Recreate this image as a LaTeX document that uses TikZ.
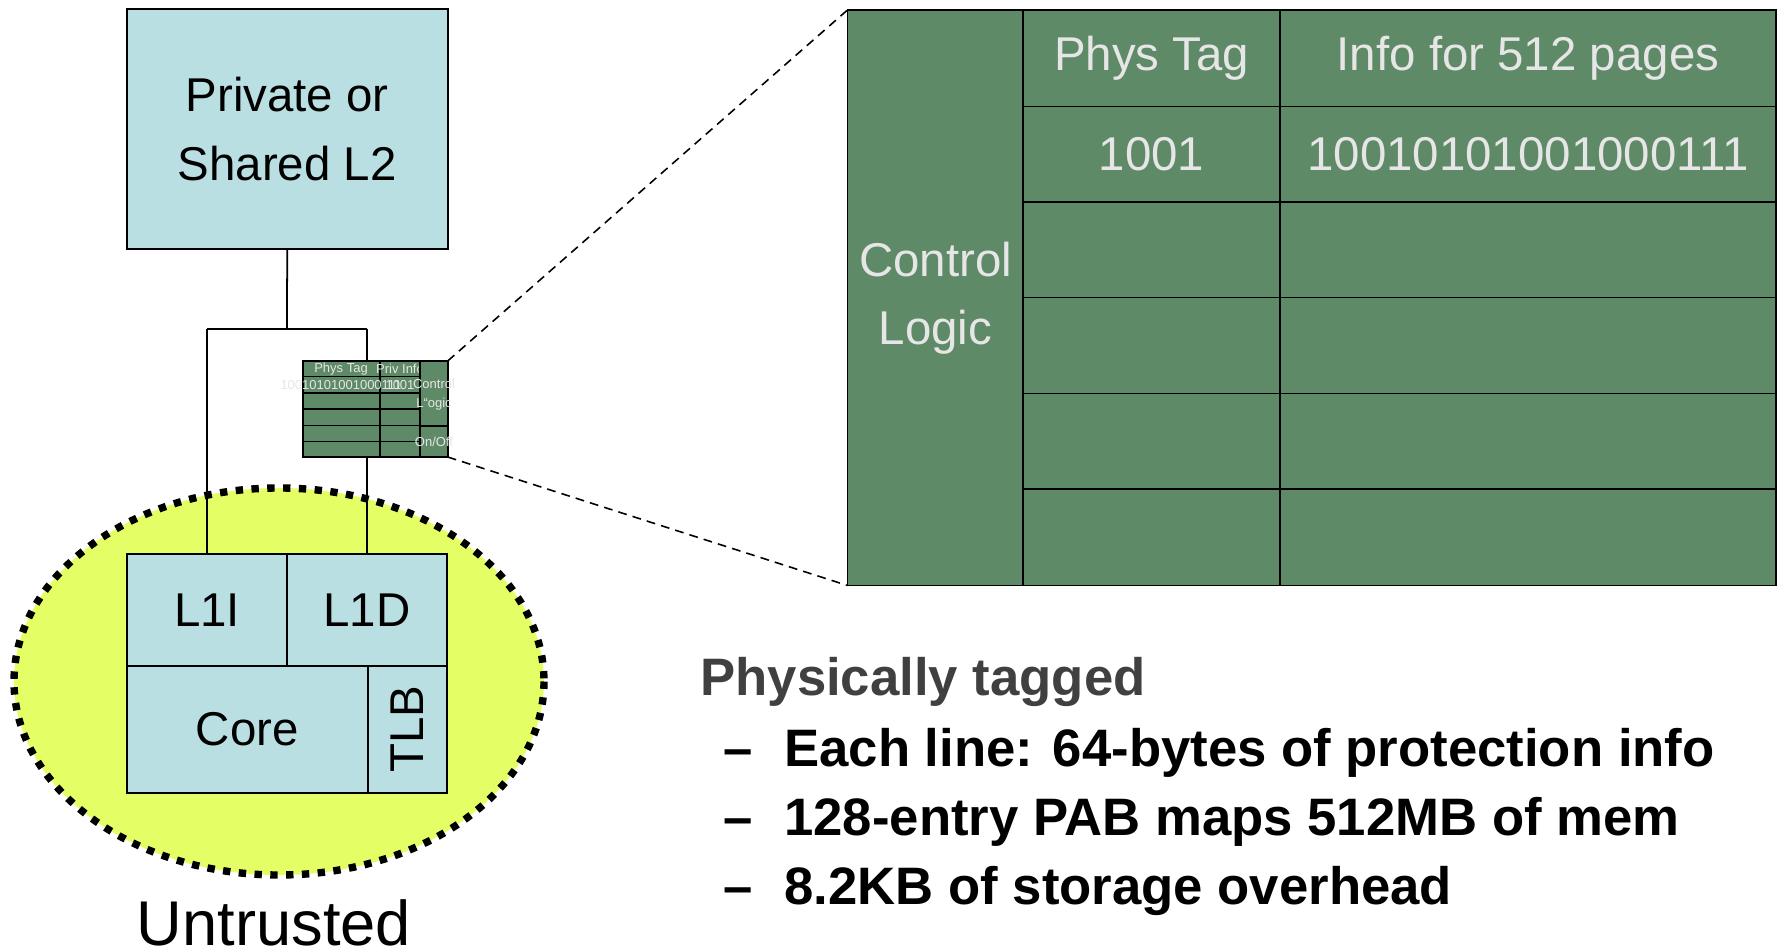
\documentclass[tikz,border=0pt]{standalone}
\usepackage{fontspec}
\setmainfont{Liberation Sans}
\usetikzlibrary{fit}
\definecolor{lblue}{HTML}{B9DFE2}
\definecolor{pgreen}{HTML}{5F8A67}
\definecolor{ltext}{HTML}{E6E6E6}
\definecolor{ylw}{HTML}{E4FF66}
\definecolor{dgray}{HTML}{404040}
\begin{document}
\begin{tikzpicture}[x=0.02cm,y=-0.02cm,
  box/.style={draw=black, line width=1.1pt, fill=lblue, inner sep=0pt, outer sep=0pt},
  gcell/.style={draw=black, line width=1.1pt, fill=pgreen, inner sep=0pt, outer sep=0pt},
  big/.style={font=\fontsize{27}{39}\selectfont, align=center, inner sep=0pt},
  bigl/.style={big, text=ltext},
  tiny/.style={font=\fontsize{7.4}{10.8}\selectfont, align=center, inner sep=0pt, text=ltext},
  conn/.style={draw=black, line width=1pt},
  zoomline/.style={draw=black, line width=0.9pt, dash pattern=on 5pt off 3.5pt},
  grid/.style={draw=black, line width=1.1pt},
  sgrid/.style={draw=black, line width=0.9pt},
  bul/.style={anchor=base west, inner sep=0pt, font=\fontsize{30}{36}\selectfont\bfseries}
]
\useasboundingbox (0,0) rectangle (1779,949);

% untrusted region
\fill[ylw] (279,681.5) ellipse [x radius=265, y radius=193.5];
\draw[line width=4.2pt, dash pattern=on 4.2pt off 4.8pt] (279,681.5) ellipse [x radius=265, y radius=193.5];

% L2 and core boxes
\node[box, fit={(126.7,9) (447.7,249)}] (l2) {};
\node[big] (l2t) at (l2.center) {Private or\\Shared L2};
\node[box, fit={(127,553.7) (287,665.7)}] (l1i) {};
\node[big] at (l1i.center) {L1I};
\node[box, fit={(287,553.7) (447,665.7)}] (l1d) {};
\node[big] at (l1d.center) {L1D};
\node[box, fit={(127,665.7) (367.6,792.7)}] (core) {};
\node[big] at (core.center) {Core};
\node[box, fit={(367.6,665.7) (447,792.7)}] (tlb) {};
\node[big, rotate=90] (tlbt) at (tlb.center) {TLB};

% connectors
\coordinate (j) at (287,329);
\coordinate (jl) at (207,329);
\coordinate (jr) at (367,329);
\draw[conn] (l2.south) -- (j);
\draw[conn] (jl) -- (jr);
\draw[conn] (jl) -- (l1i.north);
\draw[conn] (jr) -- (l1d.north);

% small table
\node[gcell, fit={(302.7,361) (447.7,457)}] (st) {};
\draw[sgrid] (380,361) -- (380,457);
\foreach \yy in {376.7,393,409,425.7,441.7} \draw[sgrid] (302.7,\yy) -- (420,\yy);
\node[tiny] (s1) at (341,369) {Phys Tag};
\node[tiny] (s2) at (400,369) {Priv Info};
\node[tiny] (s3) at (341,385) {10010101001000111};
\node[tiny] (s4) at (400,385) {1001};
\node[gcell, fit={(420,361) (447.7,425.7)}] (stc) {};
\node[gcell, fit={(420,425.7) (447.7,457)}] (sto) {};
\node[tiny] (s5) at (434,394.5) {Control\\L\char96\char96 ogic};
\node[tiny] (s6) at (434,441.5) {On/Off};

% big table
\node[gcell, fit={(847.5,10) (1776,585.5)}] (bt) {};
\draw[grid] (1023.4,10) -- (1023.4,585.5);
\draw[grid] (1279.8,10) -- (1279.8,585.5);
\foreach \yy in {106.5,202,297.5,393.5,489} \draw[grid] (1023.4,\yy) -- (1776,\yy);
\node[bigl] (b1) at (1151.6,58) {Phys Tag};
\node[bigl] (b2) at (1528,58) {Info for 512 pages};
\node[bigl] (b3) at (1151.6,154) {1001};
\node[bigl] (b4) at (1528,154) {10010101001000111};
\node[bigl] (b5) at (935.5,298) {Control\\Logic};

% zoom lines
\draw[zoomline] (st.north east) -- (bt.north west);
\draw[zoomline] (st.south east) -- (bt.south west);

% text
\node[bul, text=dgray] (p0) at (700,695) {Physically tagged};
\node[bul] (d1) at (723,766) {–};
\node[bul] (p1) at (784,766) {Each line: 64-bytes of protection info};
\node[bul] (d2) at (723,835) {–};
\node[bul] (p2) at (784,835) {128-entry PAB maps 512MB of mem};
\node[bul] (d3) at (723,904) {–};
\node[bul] (p3) at (784,904) {8.2KB of storage overhead};

\node[anchor=base, inner sep=0pt, font=\fontsize{36}{40}\selectfont] (untr) at (274,945) {Untrusted};
\end{tikzpicture}
\end{document}
